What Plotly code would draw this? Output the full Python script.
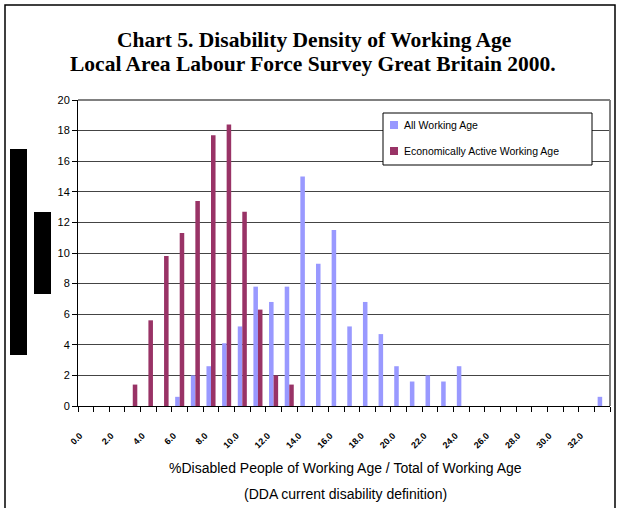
import plotly.graph_objects as go

# categories: % disabled people of working age (one bar pair per 1%)
categories = list(range(34))
tick_labels = [f"{c:.1f}" for c in categories]

all_working_age = [0, 0, 0, 0, 0, 0, 0.6, 2.0, 2.6, 4.1, 5.2, 7.8, 6.8, 7.8, 15.0,
                   9.3, 11.5, 5.2, 6.8, 4.7, 2.6, 1.6, 2.0, 1.6, 2.6, 0, 0, 0, 0,
                   0, 0, 0, 0, 0.6]
econ_active = [0, 0, 0, 1.4, 5.6, 9.8, 11.3, 13.4, 17.7, 18.4, 12.7, 6.3, 2.0, 1.4,
               0, 0, 0, 0, 0, 0, 0, 0, 0, 0, 0, 0, 0, 0, 0, 0, 0, 0, 0, 0]

title_lines = ["Chart 5. Disability Density of Working Age",
               "Local Area Labour Force Survey Great Britain 2000."]

BLUE = "#9999FF"
PURPLE = "#993366"

W, H = 618, 508
L, R, T, B = 78, 8, 100, 102
PW, PH = W - L - R, H - T - B


def px(x):
    return (x - L) / PW


def py(y):
    return (H - B - y) / PH


fig = go.Figure()
fig.add_trace(go.Bar(x=categories, y=all_working_age, name="All Working Age",
                     marker=dict(color=BLUE, line=dict(width=0))))
fig.add_trace(go.Bar(x=categories, y=econ_active, name="Economically Active Working Age",
                     marker=dict(color=PURPLE, line=dict(width=0))))

fig.update_layout(
    width=W, height=H,
    margin=dict(l=L, r=R, t=T, b=B),
    paper_bgcolor="white", plot_bgcolor="white",
    barmode="group", bargap=0.42, bargroupgap=0,
    showlegend=False,
    font=dict(family="Liberation Sans", color="black", size=11),
)

fig.update_xaxes(
    range=[-0.5, 33.5],
    tickmode="array", tickvals=categories[::2], ticktext=tick_labels[::2],
    tickangle=-45, ticks="", tickfont=dict(size=9, weight="bold"),
    ticklabelstandoff=20, ticklabelshift=-6,
    minor=dict(tickmode="array", tickvals=[c - 0.5 for c in categories] + [33.5],
               ticks="outside", ticklen=5, tickcolor="black", tickwidth=1),
    showline=True, linecolor="black", linewidth=1,
    showgrid=False, zeroline=False,
)
fig.update_yaxes(
    range=[0, 20], dtick=2,
    ticks="outside", ticklen=5, tickcolor="black",
    showline=True, linecolor="black", linewidth=1,
    showgrid=True, gridcolor="#444444", gridwidth=1,
    zeroline=False, tickfont=dict(size=11),
)

shapes = [
    # outer chart frame
    dict(type="rect", xref="paper", yref="paper", x0=px(5), x1=px(615), y0=py(540), y1=py(5),
         line=dict(color="black", width=1.5), layer="below"),
    # plot area border (top / right)
    dict(type="line", xref="paper", yref="paper", x0=0, x1=1, y0=1, y1=1,
         line=dict(color="#808080", width=2)),
    dict(type="line", xref="paper", yref="paper", x0=1, x1=1, y0=0, y1=1,
         line=dict(color="#808080", width=2)),
    # black blocks at the left
    dict(type="rect", xref="paper", yref="paper", x0=px(10), x1=px(27), y0=py(355), y1=py(149),
         fillcolor="black", line=dict(width=0)),
    dict(type="rect", xref="paper", yref="paper", x0=px(34), x1=px(51), y0=py(294), y1=py(212),
         fillcolor="black", line=dict(width=0)),
    # legend box
    dict(type="rect", xref="paper", yref="paper", x0=px(383), x1=px(592), y0=py(165), y1=py(113),
         fillcolor="white", line=dict(color="black", width=1)),
    dict(type="rect", xref="paper", yref="paper", x0=px(390), x1=px(398), y0=py(129), y1=py(121),
         fillcolor=BLUE, line=dict(width=0)),
    dict(type="rect", xref="paper", yref="paper", x0=px(390), x1=px(398), y0=py(155), y1=py(147),
         fillcolor=PURPLE, line=dict(width=0)),
]

title_font = dict(family="Liberation Serif", size=21.5, color="black", weight="bold")
annotations = [
    dict(text=title_lines[0], xref="paper", yref="paper", x=px(314), y=py(40),
         xanchor="center", yanchor="middle", showarrow=False, font=title_font),
    dict(text=title_lines[1], xref="paper", yref="paper", x=px(313), y=py(64),
         xanchor="center", yanchor="middle", showarrow=False, font=title_font),
    dict(text="All Working Age", xref="paper", yref="paper", x=px(402), y=py(125),
         xanchor="left", yanchor="middle", showarrow=False, font=dict(size=10.5)),
    dict(text="Economically Active Working Age", xref="paper", yref="paper", x=px(402), y=py(151),
         xanchor="left", yanchor="middle", showarrow=False, font=dict(size=10.5)),
    dict(text="%Disabled People of Working Age / Total of Working Age", xref="paper", yref="paper",
         x=px(345), y=py(468), xanchor="center", yanchor="middle", showarrow=False,
         font=dict(size=14)),
    dict(text="(DDA current disability definition)", xref="paper", yref="paper",
         x=px(345), y=py(494), xanchor="center", yanchor="middle", showarrow=False,
         font=dict(size=14)),
]

fig.update_layout(shapes=shapes, annotations=annotations)

# the page has no body margin, so the chart sits at the window's corner
fig.write_html("out.html", config={"displayModeBar": False},
               post_script="document.body.style.margin = '0';")
